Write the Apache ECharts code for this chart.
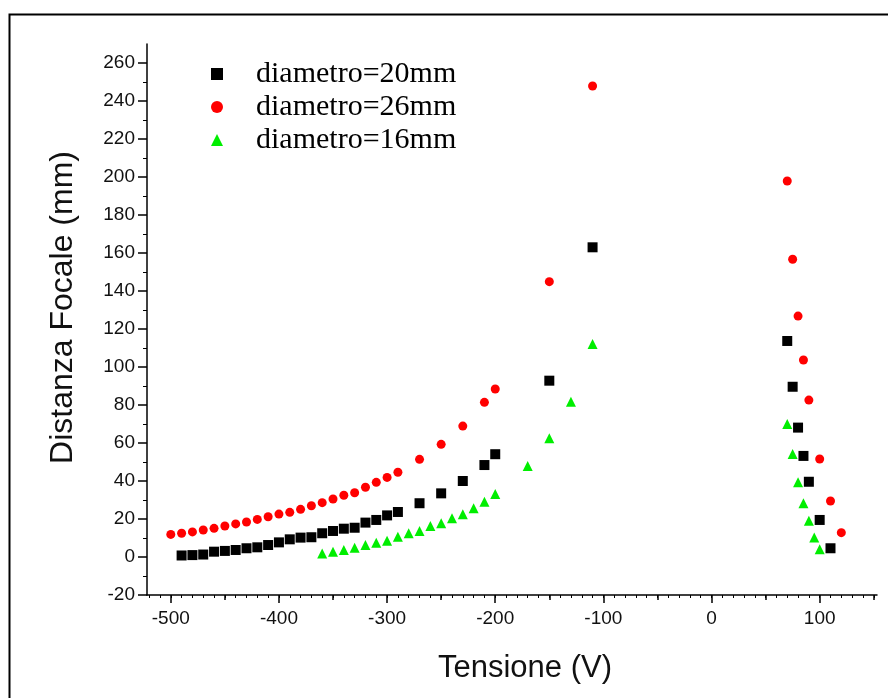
<!DOCTYPE html>
<html>
<head>
<meta charset="utf-8">
<script src="https://cdn.jsdelivr.net/npm/echarts@6/dist/echarts.min.js"></script>
<style>
html,body{margin:0;padding:0;background:#fff;}
#chart{width:888px;height:698px;}
</style>
</head>
<body>
<div id="chart"></div>
<script>
// ---- data ----
const seriesNames = ['diametro=20mm', 'diametro=26mm', 'diametro=16mm'];

const blackX = [-490,-480,-470,-460,-450,-440,-430,-420,-410,-400,-390,-380,-370,-360,-350,-340,-330,-320,-310,-300,-290,-270,-250,-230,-210,-200,-150,-110,70,75,80,85,90,100,110];
const blackY = [0.8,1.0,1.3,2.8,3.2,3.7,4.6,5.1,6.3,7.7,9.3,10.2,10.4,12.5,13.7,14.9,15.4,18.1,19.5,21.9,23.7,28.3,33.5,40,48.4,54.1,92.8,163,113.7,89.6,68.1,53.2,39.6,19.5,4.6];

const redX = [-500,-490,-480,-470,-460,-450,-440,-430,-420,-410,-400,-390,-380,-370,-360,-350,-340,-330,-320,-310,-300,-290,-270,-250,-230,-210,-200,-150,-110,70,75,80,85,90,100,110,120];
const redY = [11.9,12.5,13.2,14.2,15.1,16.3,17.4,18.4,19.8,21.2,22.6,23.5,25.1,27,28.6,30.5,32.5,33.8,36.7,39.3,41.9,44.6,51.4,59.3,68.9,81.4,88.4,144.9,247.9,197.9,156.7,126.8,103.7,82.6,51.6,29.5,12.8];

const greenX = [-360,-350,-340,-330,-320,-310,-300,-290,-280,-270,-260,-250,-240,-230,-220,-210,-200,-170,-150,-130,-110,70,75,80,85,90,95,100];
const greenY = [1.9,2.8,3.7,4.9,6.3,7.5,8.6,10.7,12.5,13.7,16.3,17.7,20.4,22.5,25.6,29.1,33.2,47.9,62.5,81.7,112.1,70,54.2,39.3,28.3,19.1,10.2,4.1];

// tick labels
const xTickLabels = [-500,-400,-300,-200,-100,0,100];
const xMidTickValues = [-500,-450,-400,-350,-300,-250,-200,-150,-100,-50,0,50,100,150];
const yTickLabels = [-20,0,20,40,60,80,100,120,140,160,180,200,220,240,260];

// ---- layout ----
const xMin = -522, xMax = 153;
const yMin = -20, yMax = 270;
const xMinorTickValues = [];
for (let v = -520; v <= 150; v += 10) xMinorTickValues.push(v);

function zip(xs, ys){ return xs.map((x,i)=>[x, ys[i]]); }

const labelFont = 'Liberation Sans';
const chart = echarts.init(document.getElementById('chart'), null, {renderer:'canvas'});

const baseX = {
  type:'value', min:xMin, max:xMax, gridIndex:0, position:'bottom',
  splitLine:{show:false}
};

chart.setOption({
  animation:false,
  backgroundColor:'#fff',
  graphic:[{
    type:'rect', left:7, top:12, silent:true,
    shape:{x:0,y:0,width:900,height:700},
    style:{fill:'none', stroke:'#000', lineWidth:2}
  }],
  grid:{left:147, right:11, top:44, bottom:103, containLabel:false},
  legend:{
    orient:'vertical', left:206, top:54,
    itemWidth:12, itemHeight:12, itemGap:3,
    textStyle:{fontFamily:'Liberation Serif', fontSize:30, color:'#000', padding:[0,0,0,28]},
    data:seriesNames
  },
  xAxis:[
    Object.assign({}, baseX, {
      axisLine:{show:true, onZero:false, lineStyle:{color:'#000', width:1.5}},
      axisTick:{show:true, customValues:xTickLabels, length:8, lineStyle:{color:'#000', width:1.5}},
      axisLabel:{customValues:xTickLabels, fontSize:19, margin:14, color:'#111', fontFamily:labelFont},
      name:'Tensione (V)', nameLocation:'middle', nameGap:58,
      nameTextStyle:{fontSize:31, color:'#111', fontFamily:labelFont, padding:[0,0,0,26]}
    }),
    Object.assign({}, baseX, {
      axisLine:{show:false, onZero:false},
      axisTick:{show:true, customValues:xMidTickValues, length:5, lineStyle:{color:'#000', width:1.5}},
      axisLabel:{show:false}
    }),
    Object.assign({}, baseX, {
      axisLine:{show:false, onZero:false},
      axisTick:{show:true, customValues:xMinorTickValues, length:3, lineStyle:{color:'#000', width:1}},
      axisLabel:{show:false}
    })
  ],
  yAxis:{
    type:'value', min:yMin, max:yMax, interval:20,
    axisLine:{show:true, onZero:false, lineStyle:{color:'#000', width:1.5}},
    axisTick:{show:true, customValues:yTickLabels, length:9, lineStyle:{color:'#000', width:1.5}},
    minorTick:{show:true, splitNumber:2, length:4, lineStyle:{color:'#000', width:1}},
    axisLabel:{customValues:yTickLabels, fontSize:19, margin:12, color:'#111', fontFamily:labelFont},
    splitLine:{show:false},
    name:'Distanza Focale (mm)', nameLocation:'middle', nameGap:68, nameRotate:90,
    nameTextStyle:{fontSize:32, color:'#111', fontFamily:labelFont, padding:[0,0,0,24]}
  },
  series:[
    {name:seriesNames[0], type:'scatter', xAxisIndex:0, symbol:'rect', symbolSize:10,
     itemStyle:{color:'#000', opacity:1}, data:zip(blackX, blackY)},
    {name:seriesNames[1], type:'scatter', xAxisIndex:0, symbol:'circle', symbolSize:9,
     itemStyle:{color:'#ff0000', opacity:1}, data:zip(redX, redY)},
    {name:seriesNames[2], type:'scatter', xAxisIndex:0, symbol:'triangle', symbolSize:10,
     itemStyle:{color:'#00ee00', opacity:1}, data:zip(greenX, greenY)}
  ]
});
</script>
</body>
</html>
